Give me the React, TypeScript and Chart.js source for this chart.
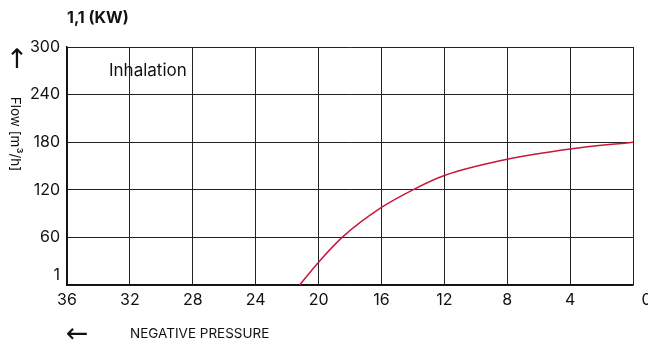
import React, { useEffect, useRef } from "react";
import { Chart, registerables } from "chart.js";

Chart.register(...registerables);

const pressure = [21.2, 20, 18.5, 16, 14, 12, 8, 4, 0];
const flow = [0, 28.7, 60, 97.7, 120, 138, 158.5, 171.5, 180];

const xTicks = [36, 32, 28, 24, 20, 16, 12, 8, 4, 0];
const yTicks = [300, 240, 180, 120, 60, 0];
const yTickLabels = ["300", "240", "180", "120", "60", "1"];

const chartTitle = "1,1 (KW)";
const seriesLabel = "Inhalation";
const yTitle = "Flow [m³/h]";
const xTitle = "NEGATIVE PRESSURE";

const FONT = "Inter, 'Liberation Sans', Arial, sans-serif";

const textPlugin = {
  id: "texts",
  afterDraw(chart: any) {
    const ctx = chart.ctx;
    const a = chart.chartArea;
    ctx.save();
    ctx.fillStyle = "#111";
    ctx.textBaseline = "middle";
    ctx.textAlign = "left";
    ctx.font = `bold 16px ${FONT}`;
    ctx.fillText(chartTitle, a.left, 18);
    ctx.font = `17px ${FONT}`;
    ctx.fillText(seriesLabel, a.left + 42, 71);
    ctx.font = `13.5px ${FONT}`;
    ctx.fillText(xTitle, a.left + 63, 334);
    ctx.font = `27px 'DejaVu Sans', sans-serif`;
    ctx.textAlign = "center";
    ctx.fillText("↑", 17, 61);
    ctx.fillText("←", 77, 335);
    ctx.translate(15, 134);
    ctx.rotate(Math.PI / 2);
    ctx.font = `13.5px ${FONT}`;
    ctx.fillText(yTitle, 0, 0);
    ctx.restore();
  },
};

export default function App() {
  const ref = useRef<HTMLCanvasElement>(null);
  useEffect(() => {
    const chart = new Chart(ref.current!, {
      type: "line",
      data: {
        datasets: [
          {
            data: pressure.map((p, i) => ({ x: p, y: flow[i] })),
            borderColor: "#c8183a",
            borderWidth: 1.5,
            pointRadius: 0,
            cubicInterpolationMode: "monotone",
            fill: false,
          },
        ],
      },
      options: {
        responsive: false,
        animation: false,
        layout: { padding: { left: 0, top: 47, right: 15, bottom: 0 } },
        plugins: { legend: { display: false }, tooltip: { enabled: false } },
        scales: {
          x: {
            type: "linear",
            reverse: true,
            min: 0,
            max: 36,
            afterBuildTicks: (s: any) => {
              s.ticks = xTicks.map((v) => ({ value: v }));
            },
            afterFit: (s: any) => {
              s.height = 60;
              s.paddingLeft = 0;
              s.paddingRight = 0;
            },
            ticks: {
              color: "#111",
              font: { family: FONT, size: 16 },
              padding: 6,
              maxRotation: 0,
              autoSkip: false,
              callback: (v: any) => (v === 0 ? "      0" : String(v)),
            },
            grid: { color: "#222", lineWidth: 1, drawTicks: false },
            border: { color: "#111", width: 1.5 },
          },
          y: {
            type: "linear",
            min: 0,
            max: 300,
            afterBuildTicks: (s: any) => {
              s.ticks = yTicks.map((v) => ({ value: v }));
            },
            afterFit: (s: any) => {
              s.width = 67;
              s.paddingTop = 0;
              s.paddingBottom = 0;
            },
            ticks: {
              color: "#111",
              font: { family: FONT, size: 16 },
              padding: 7,
              autoSkip: false,
              callback: (v: any) => {
                const i = yTicks.indexOf(v);
                const lbl = i >= 0 ? yTickLabels[i] : String(v);
                return v === 0 ? [lbl, ""] : lbl;
              },
            },
            grid: { color: "#222", lineWidth: 1, drawTicks: false },
            border: { color: "#111", width: 1.5 },
          },
        },
      },
      plugins: [textPlugin],
    } as any);
    return () => chart.destroy();
  }, []);
  return (
    <div style={{ position: "fixed", left: 0, top: 0, width: 648, height: 345 }}>
      <canvas ref={ref} width={648} height={345} />
    </div>
  );
}
